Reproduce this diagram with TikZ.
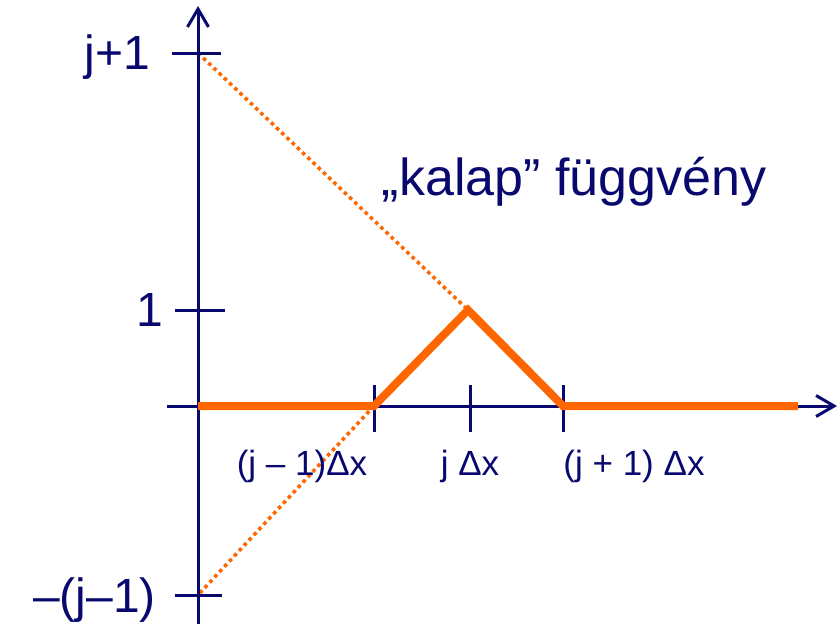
\documentclass[tikz,border=0pt]{standalone}
\usepackage{fontspec}
\setmainfont{Liberation Sans}
\usetikzlibrary{arrows.meta}
\definecolor{navy}{RGB}{8,8,110}
\definecolor{hatorange}{RGB}{255,102,0}
\tikzset{
  axis/.style={draw=navy,line width=3pt,-{Straight Barb[length=18pt,width=21pt,line width=3pt]}},
  tick/.style={draw=navy,line width=3pt},
  hat/.style={draw=hatorange,line width=8pt,line join=miter},
  guide/.style={draw=hatorange,line width=3.6pt,dash pattern=on 3.6pt off 3.6pt},
  biglab/.style={text=navy,font=\fontsize{48}{50}\selectfont,inner sep=0pt},
  titlelab/.style={text=navy,font=\fontsize{52}{54}\selectfont,inner sep=0pt},
  xlab/.style={text=navy,font=\fontsize{35}{37}\selectfont,inner sep=0pt}
}
\begin{document}
\begin{tikzpicture}[x=1pt,y=-1pt]
\useasboundingbox (0,0) rectangle (838,624);
% coordinates
\coordinate (O) at (198,406);
\coordinate (ybot) at (198,624);
\coordinate (ytop) at (198,6);
\coordinate (xleft) at (167,406);
\coordinate (xright) at (837,406);
\coordinate (A) at (374,406);
\coordinate (P) at (468,310);
\coordinate (B) at (563,406);
\coordinate (E) at (798,406);
\coordinate (Jp) at (198,53);
\coordinate (Jm) at (198,595);
% guides
\draw[guide] (Jp) -- (P);
\draw[guide] (A) -- (Jm);
% axes
\draw[axis] (ybot) -- (ytop);
\draw[axis] (xleft) -- (xright);
% y ticks
\draw[tick] (172,53) -- (221,53);
\draw[tick] (175,310) -- (225,310);
\draw[tick] (175,595) -- (222,595);
% x ticks
\draw[tick] (374,385) -- (374,432);
\draw[tick] (470,385) -- (470,432);
\draw[tick] (563,385) -- (563,432);
% hat function
\draw[hat] (O) -- (A) -- (P) -- (B) -- (E);
% labels
\node[biglab,anchor=base east] (ljp) at (150,69) {j+1};
\node[biglab,anchor=base east] (lone) at (163,326) {1};
\node[biglab,anchor=base east] (ljm) at (156,612) {–(j–1)};
\node[titlelab,anchor=base] (title) at (574,195) {„kalap” függvény};
\node[xlab,anchor=base] (lA) at (302,475) {(j – 1)Δx};
\node[xlab,anchor=base] (lP) at (470,475) {j Δx};
\node[xlab,anchor=base] (lB) at (634,475) {(j + 1) Δx};
\end{tikzpicture}
\end{document}
